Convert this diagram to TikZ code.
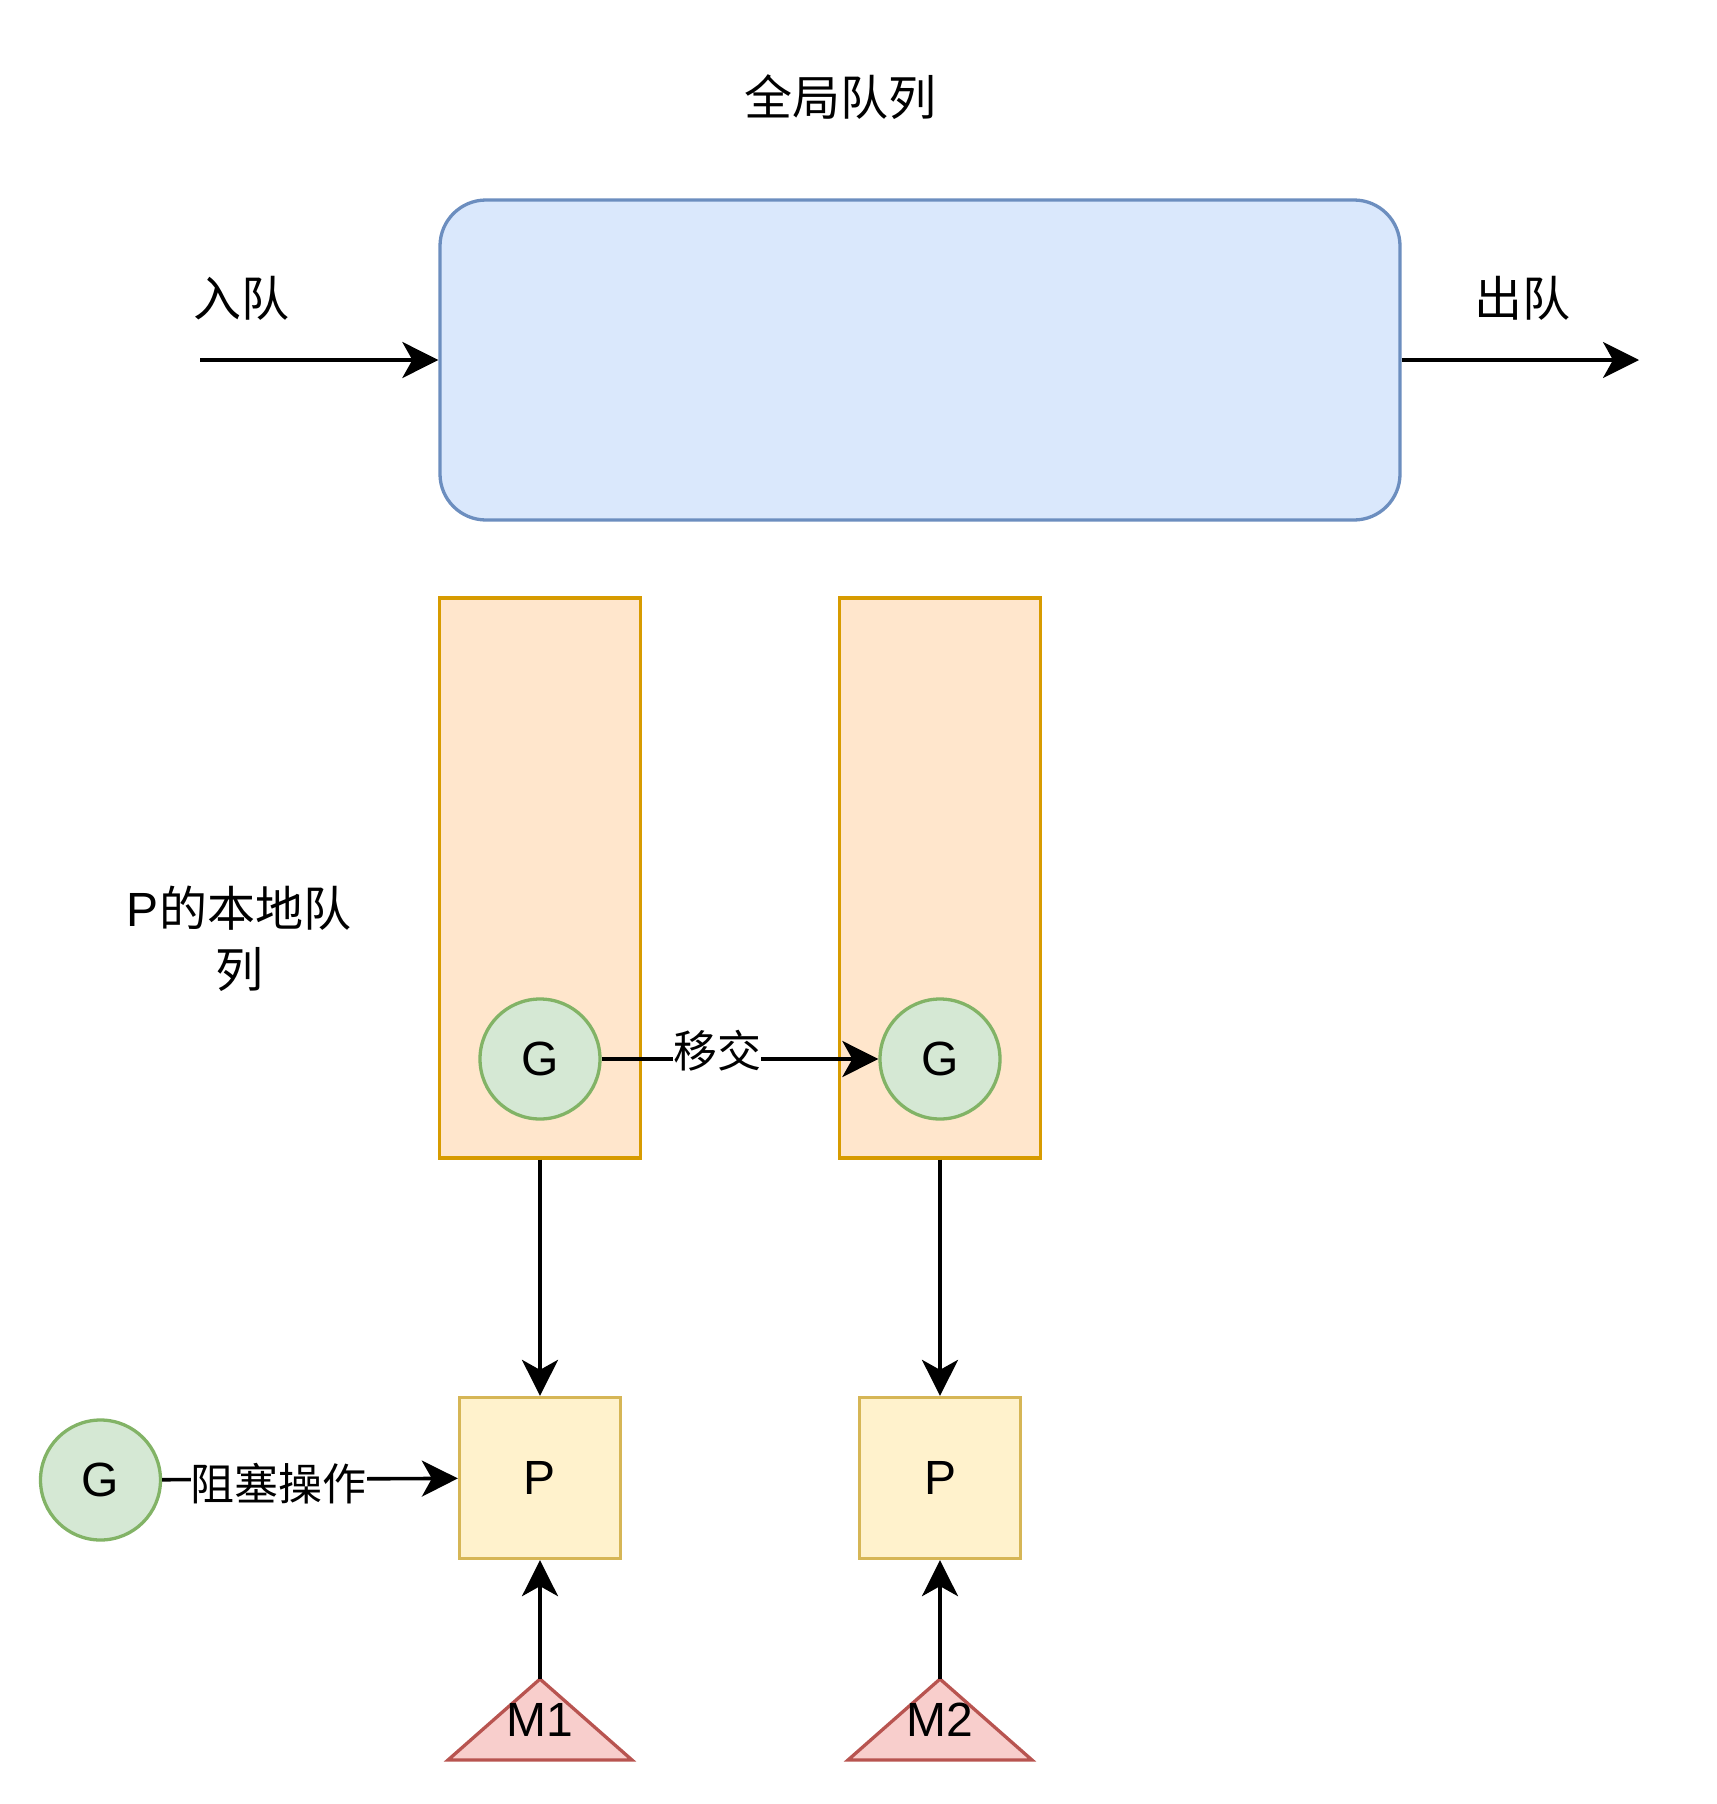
\documentclass[tikz,border=0pt]{standalone}
\usepackage{fontspec}
\setmainfont{Liberation Sans}
\newfontfamily\cjk{Noto Sans CJK SC}
\usetikzlibrary{arrows.meta}
\definecolor{bluefill}{HTML}{DAE8FC}
\definecolor{bluedraw}{HTML}{6C8EBF}
\definecolor{orangefill}{HTML}{FFE6CC}
\definecolor{orangedraw}{HTML}{D79B00}
\definecolor{greenfill}{HTML}{D5E8D4}
\definecolor{greendraw}{HTML}{82B366}
\definecolor{yellowfill}{HTML}{FFF2CC}
\definecolor{yellowdraw}{HTML}{D6B656}
\definecolor{redfill}{HTML}{F8CECC}
\definecolor{reddraw}{HTML}{B85450}
\begin{document}
\begin{tikzpicture}[x=1pt,y=-1pt,
  bigfont/.style={font=\fontsize{48}{61}\selectfont},
  txt/.style={bigfont, inner sep=0pt, align=center},
  queuebox/.style={draw=bluedraw, fill=bluefill, line width=3.3pt, rounded corners=46pt,
    minimum width=960pt, minimum height=320pt, inner sep=0pt},
  localq/.style={draw=orangedraw, fill=orangefill, line width=3.3pt,
    minimum width=201pt, minimum height=560pt, inner sep=0pt},
  gnode/.style={circle, draw=greendraw, fill=greenfill, line width=3.3pt,
    minimum size=120pt, inner sep=0pt, bigfont},
  pnode/.style={draw=yellowdraw, fill=yellowfill, line width=3.3pt,
    minimum size=161pt, inner sep=0pt, bigfont},
  mtri/.style={draw=reddraw, fill=redfill, line width=3.3pt, line join=miter},
  conn/.style={line width=3.6pt, -{Stealth[length=36pt,width=36pt,inset=10pt]}},
  lbl/.style={font=\fontsize{44}{56}\selectfont, fill=white, inner sep=0pt}
]
\useasboundingbox (0,0) rectangle (1716,1804);

% title and labels
\node[txt] (title) at (840,97.5) {\cjk 全局队列};
\node[txt] (enqlbl) at (241,298.5) {\cjk 入队};
\node[txt] (deqlbl) at (1522,298.5) {\cjk 出队};
\node[txt] (locallbl) at (239,939) {P{\cjk 的本地队}\\{\cjk 列}};

% global queue
\node[queuebox] (gq) at (920,360) {};
\coordinate (enqstart) at (200,360);
\coordinate (deqend) at (1639,360);
\draw[conn] (enqstart) -- (gq.west);
\draw[conn] (gq.east) -- (deqend);

% local queues
\node[localq] (lq1) at (540,878) {};
\node[localq] (lq2) at (940,878) {};

% G nodes
\node[gnode] (g1) at (540,1059) {G};
\node[gnode] (g2) at (940,1059) {G};
\node[gnode] (g3) at (100.5,1480) {G};

% P nodes
\node[pnode] (p1) at (540,1478) {P};
\node[pnode] (p2) at (940,1478) {P};

% M triangles
\coordinate (m1apex) at (540,1679);
\coordinate (m2apex) at (940,1679);
\draw[mtri] (m1apex) -- (632,1760) -- (448,1760) -- cycle;
\draw[mtri] (m2apex) -- (1032,1760) -- (848,1760) -- cycle;
\node[txt] (m1) at (540,1720) {M1};
\node[txt] (m2) at (940,1720) {M2};

% connectors
\draw[conn] (g1) -- (g2);
\node[lbl] (handoff) at (717,1051) {\cjk 移交};
\draw[conn] (g3) -- (p1);
\node[lbl] (block) at (278.5,1484) {\cjk 阻塞操作};
\draw[conn] (lq1.south) -- (p1.north);
\draw[conn] (lq2.south) -- (p2.north);
\draw[conn] (m1apex) -- (p1.south);
\draw[conn] (m2apex) -- (p2.south);
\end{tikzpicture}
\end{document}
